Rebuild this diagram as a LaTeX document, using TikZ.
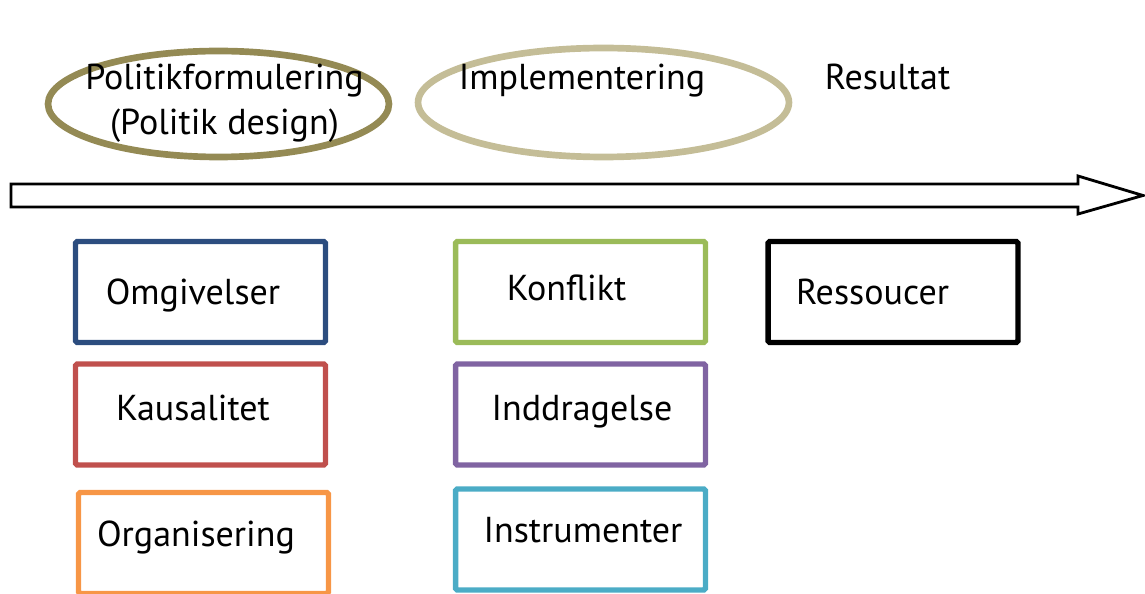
\documentclass[tikz,border=0pt]{standalone}
\usepackage{fontspec}
\setmainfont{PT Sans}
\usepackage{tikz}
\usetikzlibrary{shapes.geometric}
\definecolor{oliven}{HTML}{948A54}
\definecolor{sand}{HTML}{C4BD97}
\definecolor{moerkblaa}{HTML}{2C4D7F}
\definecolor{roed}{HTML}{C0504D}
\definecolor{orange}{HTML}{F79646}
\definecolor{groen}{HTML}{9BBB59}
\definecolor{lilla}{HTML}{8064A2}
\definecolor{turkis}{HTML}{4BACC6}

\begin{document}
\begin{tikzpicture}
  [x=0.02cm,y=-0.02cm,
   kasse/.style={draw,rectangle,line width=3.1pt,minimum width=5cm,minimum height=2.02cm,inner sep=0pt,rounded corners=1pt},
   ring/.style={draw,ellipse,line width=3.8pt,inner sep=0pt},
   tekst/.style={anchor=base,font=\fontsize{20.5}{24}\selectfont,inner sep=0pt}]
  \useasboundingbox (0,0) rectangle (1145,594);

  % faser
  \node[ring,oliven,minimum width=6.82cm,minimum height=2.12cm] (design) at (218.5,104) {};
  \node[ring,sand,minimum width=7.42cm,minimum height=2.18cm] (impl) at (603.5,102.5) {};
  \node[tekst] (t1) at (224.5,90) {Politikformulering};
  \node[tekst] (t2) at (224.5,135) {(Politik design)};
  \node[tekst] (t3) at (582,90) {Implementering};
  \node[tekst] (t4) at (887.5,90) {Resultat};

  % tidslinje
  \draw[line width=1.6pt,line join=miter] (11,184) -- (1078,184) -- (1078,176) -- (1143,195.5)
    -- (1078,214) -- (1078,207) -- (11,207) -- cycle;

  % faktorer
  \node[kasse,moerkblaa] (omg) at (200.5,292) {};
  \node[kasse,roed] (kaus) at (200.5,414.5) {};
  \node[kasse,orange] (org) at (203.5,543) {};
  \node[kasse,groen] (konf) at (580.5,292) {};
  \node[kasse,lilla] (indd) at (580.5,414.5) {};
  \node[kasse,turkis] (instr) at (580.5,539.5) {};
  \node[kasse,black] (ress) at (893,292) {};

  \node[tekst] (l1) at (193,304) {Omgivelser};
  \node[tekst] (l2) at (193,420) {Kausalitet};
  \node[tekst] (l3) at (196,546) {Organisering};
  \node[tekst] (l4) at (566.5,300) {Konflikt};
  \node[tekst] (l5) at (582,420) {Inddragelse};
  \node[tekst] (l6) at (583,542) {Instrumenter};
  \node[tekst] (l7) at (872.5,304) {Ressoucer};
\end{tikzpicture}
\end{document}
